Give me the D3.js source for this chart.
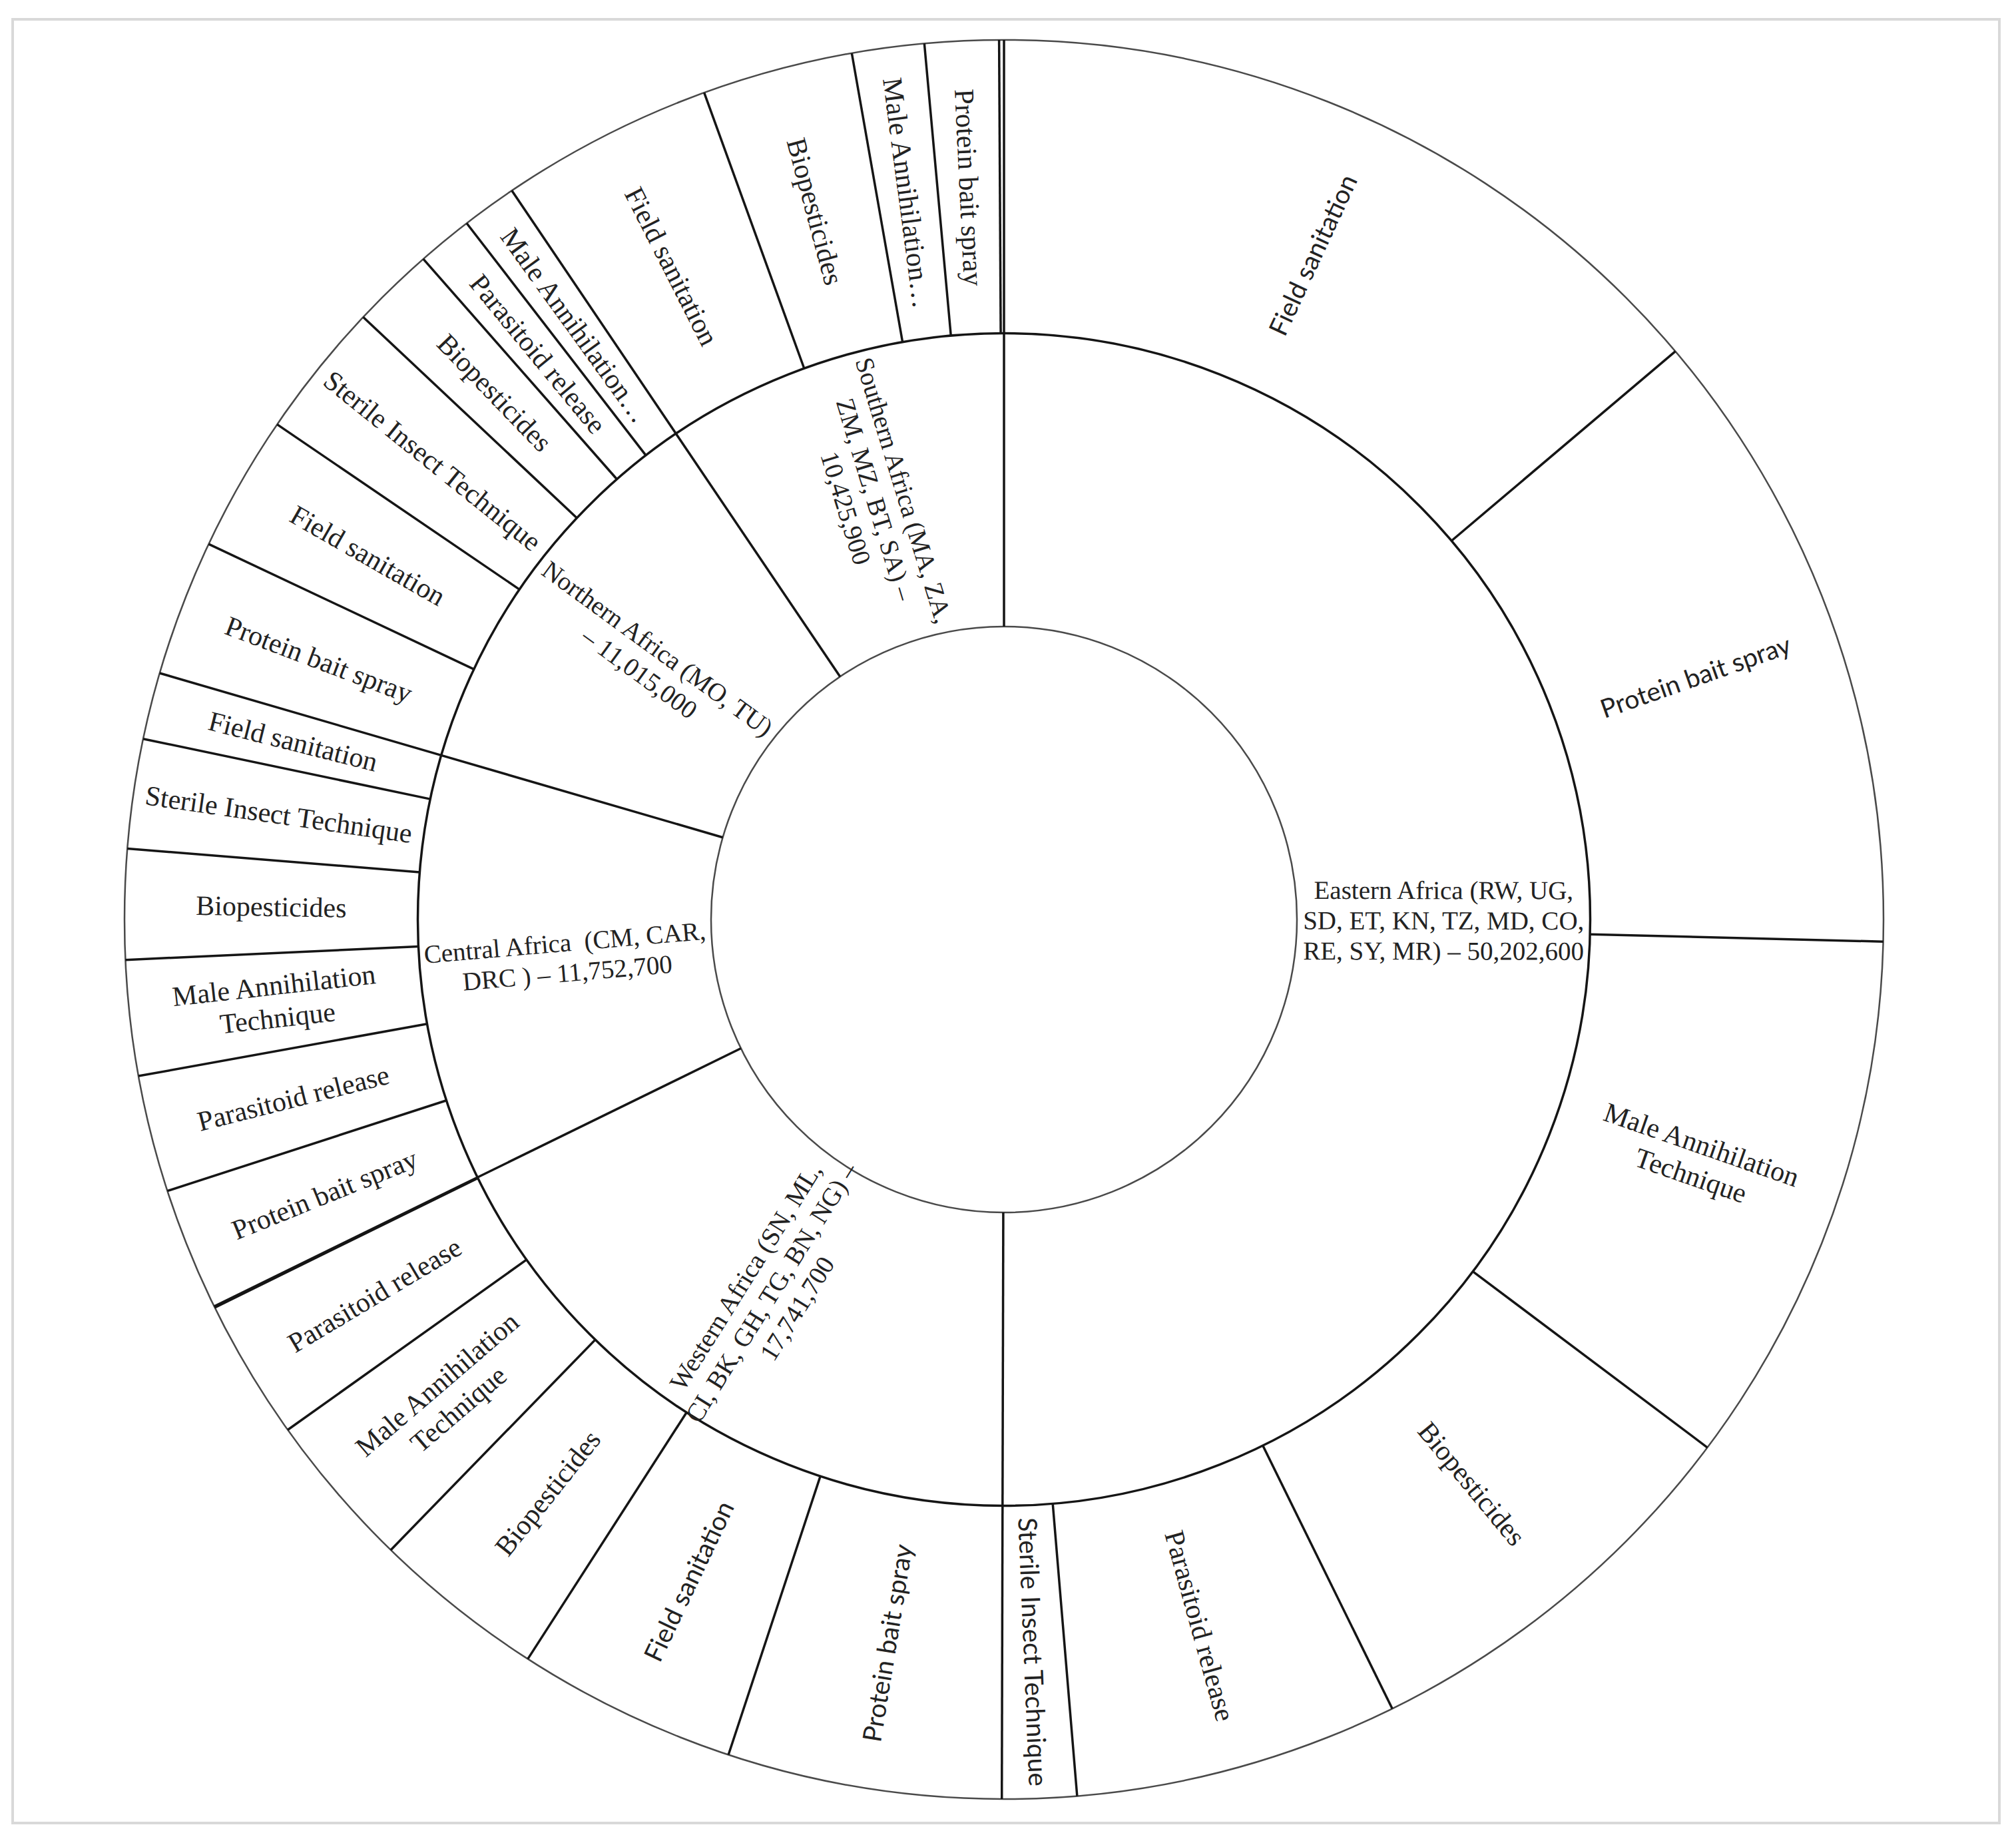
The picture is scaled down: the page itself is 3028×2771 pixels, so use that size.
<!DOCTYPE html>
<html lang="en">
<head>
  <meta charset="UTF-8">
  <title>Fruit fly control – sunburst</title>
  <style>
    body { margin: 0; background: #fff; }
    text { white-space: pre; }
  </style>
</head>
<body>
<script src="https://d3js.org/d3.v7.min.js"></script>
<script>

  let w = 3028, h = 2771;
  let cx = 1508, cy = 1381;
  let r0 = 440, r2 = 1321;

  // regions, clockwise from 12 o'clock
  var regionNames = ["Eastern Africa", "Western Africa", "Central Africa", "Northern Africa", "Southern Africa"];
  var regionLabels = [
    ["Eastern Africa (RW, UG,", "SD, ET, KN, TZ, MD, CO,", "RE, SY, MR) – 50,202,600"],
    ["Western Africa (SN, ML,", "CI, BK, GH, TG, BN, NG) –", "17,741,700"],
    ["Central Africa  (CM, CAR,", "DRC ) – 11,752,700"],
    ["Northern Africa (MO, TU)", "– 11,015,000"],
    ["Southern Africa (MA, ZA,", "ZM, MZ, BT, SA) –", "10,425,900"]
  ];

  // control methods per region
  var easternMethods = ["Field sanitation", "Protein bait spray", "Male Annihilation Technique", "Biopesticides", "Parasitoid release", "Sterile Insect Technique"];
  var easternValues = [13980000, 11710000, 9960000, 7560000, 6020000, 1380000];
  var easternLabels = ["Field sanitation", "Protein bait spray", "Male Annihilation\nTechnique", "Biopesticides", "Parasitoid release", "Sterile Insect Technique"];

  var westernMethods = ["Protein bait spray", "Field sanitation", "Biopesticides", "Male Annihilation Technique", "Parasitoid release", "Sterile Insect Technique"];
  var westernValues = [5090000, 4080000, 3210000, 2900000, 2610000, 25000];
  var westernLabels = ["Protein bait spray", "Field sanitation", "Biopesticides", "Male Annihilation\nTechnique", "Parasitoid release", ""];

  var centralMethods = ["Protein bait spray", "Parasitoid release", "Male Annihilation Technique", "Biopesticides", "Sterile Insect Technique", "Field sanitation"];
  var centralValues = [2280000, 2170000, 2140000, 2040000, 2030000, 1240000];
  var centralLabels = ["Protein bait spray", "Parasitoid release", "Male Annihilation\nTechnique", "Biopesticides", "Sterile Insect Technique", "Field sanitation"];

  var northernMethods = ["Protein bait spray", "Field sanitation", "Sterile Insect Technique", "Biopesticides", "Parasitoid release", "Male Annihilation Technique"];
  var northernValues = [2530000, 2525000, 2520000, 1530000, 1030000, 1020000];
  var northernLabels = ["Protein bait spray", "Field sanitation", "Sterile Insect Technique", "Biopesticides", "Parasitoid release", "Male Annihilation…"];

  var southernMethods = ["Field sanitation", "Biopesticides", "Male Annihilation Technique", "Protein bait spray", "Parasitoid release"];
  var southernValues = [3960000, 2800000, 1340000, 1370000, 90000];
  var southernLabels = ["Field sanitation", "Biopesticides", "Male Annihilation…", "Protein bait spray", ""];

  var methodsByRegion = [easternMethods, westernMethods, centralMethods, northernMethods, southernMethods];
  var valuesByRegion = [easternValues, westernValues, centralValues, northernValues, southernValues];
  var labelsByRegion = [easternLabels, westernLabels, centralLabels, northernLabels, southernLabels];

  // labels that were set in the sans face in the original
  var sansLabels = ["Eastern Africa/Field sanitation", "Eastern Africa/Protein bait spray",
    "Eastern Africa/Sterile Insect Technique", "Western Africa/Protein bait spray", "Western Africa/Field sanitation"];

  var serif = "'Liberation Serif', 'DejaVu Serif', serif";
  var sans = "Lato, 'Open Sans', sans-serif";

  var tree = {
    name: "root",
    children: regionNames.map(function(n, i) {
      return {
        name: n,
        label: regionLabels[i].join("\n"),
        children: methodsByRegion[i].map(function(m, j) {
          return {name: m, label: labelsByRegion[i][j], value: valuesByRegion[i][j]};
        })
      };
    })
  };

  var root = d3.hierarchy(tree).sum(function(d) { return d.value || 0; });
  d3.partition().size([2 * Math.PI, 3])(root);

  var rScale = d3.scaleLinear().domain([1, 3]).range([r0, r2]);

  var arc = d3.arc()
          .startAngle(function(d) { return d.x0; })
          .endAngle(function(d) { return d.x1; })
          .innerRadius(function(d) { return rScale(d.y0); })
          .outerRadius(function(d) { return rScale(d.y1); });

  var svg = d3.select("body")
          .append("svg")
          .attr("width", w)
          .attr("height", h);

  svg.append("rect")
          .attr("x", 19)
          .attr("y", 29)
          .attr("width", 2984)
          .attr("height", 2709)
          .attr("fill", "#fff")
          .attr("stroke", "#d9d9d9")
          .attr("stroke-width", 4);

  var g = svg.append("g")
          .attr("transform", "translate(" + cx + "," + cy + ")");

  var nodes = root.descendants().filter(function(d) { return d.depth > 0; });

  g.selectAll("path.slice")
          .data(nodes)
          .enter()
          .append("path")
          .attr("class", "slice")
          .attr("d", arc)
          .attr("fill", "#fff")
          .attr("stroke", "none");

  // rings
  g.selectAll("circle.ring")
          .data([{r: rScale(1), c: "#4a4a4a", s: 2.5}, {r: rScale(2), c: "#151515", s: 3.5}, {r: rScale(3), c: "#4a4a4a", s: 2.5}])
          .enter()
          .append("circle")
          .attr("class", "ring")
          .attr("r", function(d) { return d.r; })
          .attr("fill", "none")
          .attr("stroke", function(d) { return d.c; })
          .attr("stroke-width", function(d) { return d.s; });

  // radial separators at the start of every slice
  g.selectAll("line.sep")
          .data(nodes)
          .enter()
          .append("line")
          .attr("class", "sep")
          .attr("x1", function(d) { return rScale(d.y0) * Math.sin(d.x0); })
          .attr("y1", function(d) { return -rScale(d.y0) * Math.cos(d.x0); })
          .attr("x2", function(d) { return rScale(d.y1) * Math.sin(d.x0); })
          .attr("y2", function(d) { return -rScale(d.y1) * Math.cos(d.x0); })
          .attr("stroke", "#151515")
          .attr("stroke-width", 3.5);

  var labelled = nodes.filter(function(d) {
    return d.data.label && (d.x1 - d.x0) > 2 * Math.PI / 180;
  });

  var lab = g.selectAll("g.lab")
          .data(labelled)
          .enter()
          .append("g")
          .attr("class", "lab")
          .attr("transform", function(d) {
            var a = (d.x0 + d.x1) / 2;
            var r = rScale((d.y0 + d.y1) / 2);
            var deg = a * 180 / Math.PI;
            var rot = deg < 180 ? deg - 90 : deg - 270;
            return "translate(" + (r * Math.sin(a)) + "," + (-r * Math.cos(a)) + ") rotate(" + rot + ")";
          });

  lab.append("text")
          .attr("text-anchor", "middle")
          .attr("dominant-baseline", "central")
          .attr("fill", "#222")
          .attr("font-family", function(d) {
            var key = d.depth == 2 ? d.parent.data.name + "/" + d.data.name : "";
            return sansLabels.indexOf(key) >= 0 ? sans : serif;
          })
          .attr("font-size", function(d) {
            var key = d.depth == 2 ? d.parent.data.name + "/" + d.data.name : "";
            if (sansLabels.indexOf(key) >= 0) return 39;
            return d.depth == 1 ? 39 : 42;
          })
          .each(function(d) {
            var lines = d.data.label.split("\n");
            var t = d3.select(this);
            lines.forEach(function(l, i) {
              t.append("tspan")
                      .attr("x", 0)
                      .attr("dy", i == 0 ? (-(lines.length - 1) / 2 * 1.17) + "em" : "1.17em")
                      .text(l);
            });
          });

</script>
</body>
</html>
